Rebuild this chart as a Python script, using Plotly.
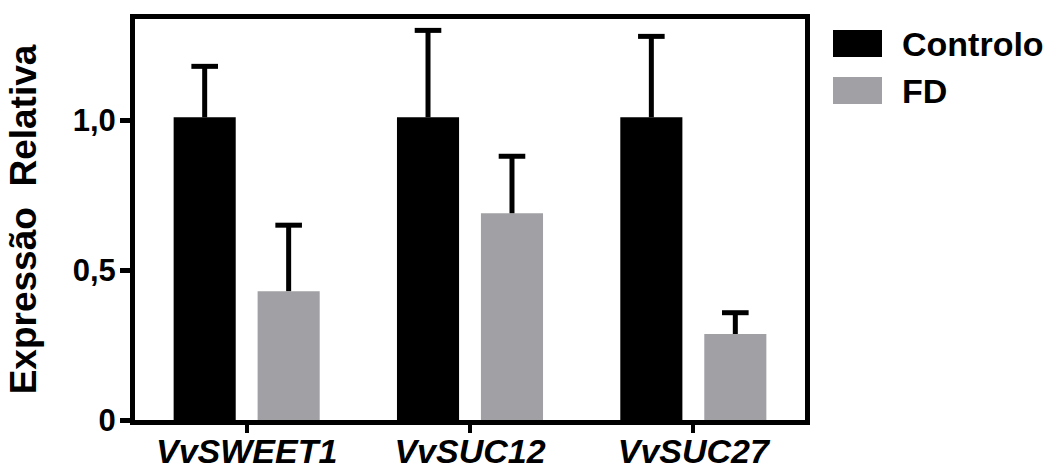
import plotly.graph_objects as go

# ---- data ----
categories = ["VvSWEET1", "VvSUC12", "VvSUC27"]
series_names = ["Controlo", "FD"]
controlo = [1.01, 1.01, 1.01]
controlo_err = [0.17, 0.29, 0.27]
fd = [0.43, 0.69, 0.287]
fd_err = [0.22, 0.19, 0.071]
y_tickvals = [0, 0.5, 1.0]
y_ticktext = ["0", "0,5", "1,0"]

colors = ["#000000", "#A1A0A5"]
values = [controlo, fd]
errors = [controlo_err, fd_err]

FONT = "Liberation Sans, Arial, sans-serif"
offset = 0.188
bar_w = 0.278

fig = go.Figure()
idx = list(range(len(categories)))
for s, (name, vals, col) in enumerate(zip(series_names, values, colors)):
    sign = -1 if s == 0 else 1
    xs = [i + sign * offset for i in idx]
    fig.add_trace(go.Bar(x=xs, y=vals, width=bar_w, marker=dict(color=col, line=dict(width=0)),
                         name=name, showlegend=False))

# error bars (upper only)
for s, (vals, errs) in enumerate(zip(values, errors)):
    sign = -1 if s == 0 else 1
    xs = [i + sign * offset for i in idx]
    lx, ly = [], []
    for x, v, e in zip(xs, vals, errs):
        lx += [x, x, None]
        ly += [v, v + e, None]
    fig.add_trace(go.Scatter(x=lx, y=ly, mode="lines", line=dict(color="black", width=5),
                             showlegend=False, hoverinfo="skip", cliponaxis=False))
    fig.add_trace(go.Scatter(x=xs, y=[v + e for v, e in zip(vals, errs)], mode="markers",
                             marker=dict(symbol="line-ew", size=19, line=dict(color="black", width=5)),
                             showlegend=False, hoverinfo="skip", cliponaxis=False))

# manual legend
L, R, T, B = 135, 238, 19, 50
W, H = 1043, 470
pw, ph = W - L - R, H - T - B
def px2x(p):
    return (p - L) / pw
def py2y(p):
    return (H - B - p) / ph
for k, (name, col) in enumerate(zip(series_names, colors)):
    top = 30 + k * 47
    fig.add_shape(type="rect", xref="paper", yref="paper",
                  x0=px2x(833), x1=px2x(882), y0=py2y(top), y1=py2y(top + 27),
                  fillcolor=col, line=dict(width=0))
    fig.add_annotation(xref="paper", yref="paper", x=px2x(900), y=py2y(top + 14),
                       text=name, showarrow=False, xanchor="left", yanchor="middle",
                       font=dict(family=FONT, size=34, color="black", weight="bold"))

fig.update_layout(
    width=W, height=H,
    margin=dict(l=L, r=R, t=T, b=B, pad=0),
    paper_bgcolor="white", plot_bgcolor="white",
    showlegend=False,
)
fig.update_xaxes(
    range=[-0.5, 2.5], tickvals=idx, ticktext=categories, automargin=False,
    showline=True, linewidth=5, linecolor="black", mirror=True,
    ticks="outside", ticklen=8, tickwidth=4, tickcolor="black",
    showgrid=False, zeroline=False, ticklabelstandoff=-11,
    tickfont=dict(family=FONT, size=34, color="black", weight="bold", style="italic"),
)
fig.update_yaxes(
    range=[0, 1.338], tickvals=y_tickvals, ticktext=y_ticktext, automargin=False,
    showline=True, linewidth=5, linecolor="black", mirror=True,
    ticks="outside", ticklen=10, tickwidth=5, tickcolor="black",
    showgrid=False, zeroline=False, ticklabelstandoff=-2,
    tickfont=dict(family=FONT, size=31, color="black", weight="bold"),
    title=dict(text="Expressão  Relativa", standoff=26,
               font=dict(family=FONT, size=37, color="black", weight="bold")),
)

fig.write_html("out.html")
